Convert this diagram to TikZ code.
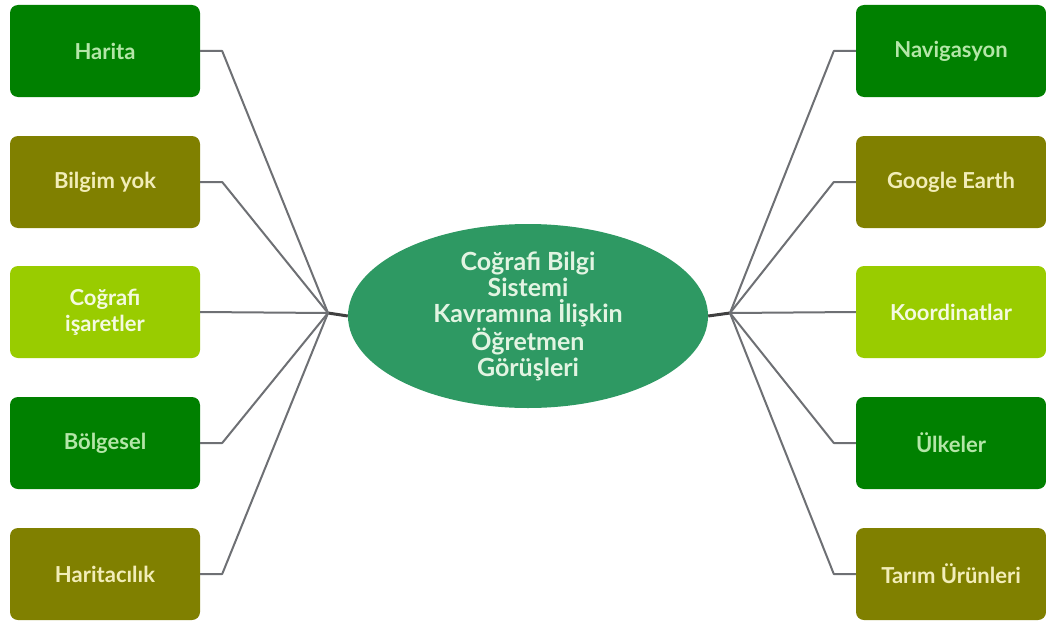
\documentclass[tikz,border=0pt]{standalone}
\usepackage{fontspec}
\setmainfont{Lato}
\usetikzlibrary{shapes.geometric}
\definecolor{dkgreen}{HTML}{008000}
\definecolor{olivebox}{HTML}{808000}
\definecolor{ltgreen}{HTML}{99CC00}
\definecolor{hub}{HTML}{2E9963}
\definecolor{linkgrey}{HTML}{6E7074}
\definecolor{txtgreen}{HTML}{B4E6A8}
\definecolor{txtolive}{HTML}{F2EDB8}
\definecolor{txtlight}{HTML}{F4FAE0}
\definecolor{txthub}{HTML}{E2F4E2}
\begin{document}
\begin{tikzpicture}[x=1pt,y=-1pt,
  box/.style={rectangle,rounded corners=8pt,minimum width=190pt,minimum height=92pt,
    align=center,font=\fontsize{22}{26}\selectfont\bfseries,inner sep=2pt},
  gbox/.style={box,fill=dkgreen,text=txtgreen},
  obox/.style={box,fill=olivebox,text=txtolive},
  lbox/.style={box,fill=ltgreen,text=txtlight},
  link/.style={draw=linkgrey,line width=2pt,line join=round},
  stub/.style={draw=black!75,line width=3pt}]
\useasboundingbox (0,0) rectangle (1046,626);
\fill[white] (0,0) rectangle (1046,626);

% central topic
\node[ellipse,fill=hub,minimum width=360pt,minimum height=184pt,text=txthub,
  align=center,font=\fontsize{25}{26}\selectfont\bfseries,inner sep=0pt]
  (hub) at (528,316) {Coğrafi Bilgi\\Sistemi\\Kavramına İlişkin\\Öğretmen\\Görüşleri};

% junction points on either side of the hub
\coordinate (jl) at (328,313);
\coordinate (jr) at (730,313);
\draw[stub] (jl) -- (hub.west);
\draw[stub] (hub.east) -- (jr);

% left column
\node[gbox] (l1) at (105,51)  {Harita};
\node[obox] (l2) at (105,182) {Bilgim yok};
\node[lbox] (l3) at (105,312) {Coğrafi\\işaretler};
\node[gbox] (l4) at (105,443) {Bölgesel};
\node[obox] (l5) at (105,574) {Haritacılık};

% right column
\node[gbox] (r1) at (951,51)  {Navigasyon};
\node[obox] (r2) at (951,182) {Google Earth};
\node[lbox] (r3) at (951,312) {Koordinatlar};
\node[gbox] (r4) at (951,443) {Ülkeler};
\node[obox] (r5) at (951,574) {Tarım Ürünleri};

% connectors, left
\foreach \n in {l1,l2,l4,l5}
  \draw[link] (\n.east) -- ++(22,0) -- (jl);
\draw[link] (l3.east) -- (jl);

% connectors, right
\foreach \n in {r1,r2,r4,r5}
  \draw[link] (\n.west) -- ++(-22,0) -- (jr);
\draw[link] (r3.west) -- (jr);
\end{tikzpicture}
\end{document}
